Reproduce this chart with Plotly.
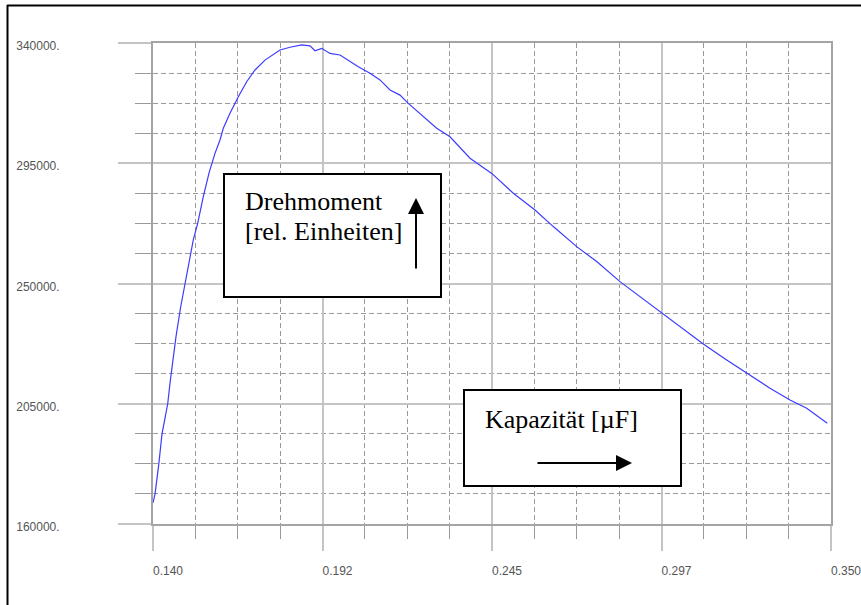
import plotly.graph_objects as go

# Measured torque curve vs. capacitance
kapazitaet_uF = [
    0.14000, 0.14062, 0.14177, 0.14279, 0.14372, 0.14455, 0.14527, 0.14712,
    0.14858, 0.14991, 0.15146, 0.15248, 0.15384, 0.15558, 0.15744, 0.15920,
    0.16075, 0.16177, 0.16385, 0.16642, 0.16902, 0.17159, 0.17469, 0.17933,
    0.18243, 0.18606, 0.18863, 0.19018, 0.19225, 0.19482, 0.19792, 0.20102,
    0.20359, 0.20721, 0.21031, 0.21341, 0.21650, 0.21907, 0.22372, 0.22787,
    0.23199, 0.23818, 0.24491, 0.25160, 0.25832, 0.26399, 0.27123, 0.27743,
    0.28464, 0.29084, 0.29756, 0.30375, 0.31044, 0.31769, 0.32389, 0.33110,
    0.33730, 0.34247, 0.34885,
]
drehmoment = [
    167900, 171200, 182100, 193700, 199600, 204900, 212700, 230100,
    241300, 250100, 260000, 266300, 272500, 282500, 291800, 298700,
    303700, 308100, 313700, 319900, 325500, 329900, 333600, 337400,
    338400, 339300, 338900, 337100, 338000, 336100, 335500, 333000,
    331100, 328700, 326200, 322400, 320500, 317400, 312400, 308100,
    304900, 296900, 291200, 283800, 277500, 271300, 263800, 258200,
    250700, 245100, 239100, 233200, 227400, 221400, 216400, 210800,
    206400, 203300, 197700,
]

# Axis scales and tick labels
x_range = [0.140, 0.350]
x_major = [0.140, 0.1925, 0.245, 0.2975, 0.350]
x_labels = ["0.140", "0.192", "0.245", "0.297", "0.350"]
x_minor_step = 0.013125

y_range = [160000, 340000]
y_major = [160000, 205000, 250000, 295000, 340000]
y_labels = ["160000.", "205000.", "250000.", "295000.", "340000."]
y_minor_step = 11250

x_minor = [x_range[0] + i * x_minor_step for i in range(17) if i % 4]
y_minor = [y_range[0] + i * y_minor_step for i in range(17) if i % 4]

GRID_MAJOR = "#c4c4c4"
GRID_MINOR = "#9a9a9a"
FRAME = "#a4a4a4"
TICK_FONT = dict(family="Liberation Sans, Arial, sans-serif", size=12, color="#555555")
BOX_FONT = dict(family="Liberation Serif, Times New Roman, serif", size=26, color="#000000")

fig = go.Figure()
fig.add_trace(go.Scatter(
    x=kapazitaet_uF, y=drehmoment, mode="lines",
    line=dict(color="#3c3cff", width=1.2),
    hoverinfo="skip", showlegend=False,
))

fig.update_xaxes(
    range=x_range, tickvals=x_major, ticktext=x_labels,
    ticks="outside", ticklen=25, tickwidth=1.5, tickcolor=GRID_MAJOR,
    showgrid=True, gridcolor=GRID_MAJOR, gridwidth=1.5,
    showline=True, linecolor=FRAME, linewidth=2, mirror=True,
    zeroline=False, tickfont=TICK_FONT, automargin=False,
    ticklabelstandoff=10, ticklabelshift=15, ticklabeloverflow="allow",
    minor=dict(tickvals=x_minor, ticks="outside", ticklen=13, tickwidth=1,
               tickcolor=GRID_MINOR, showgrid=True, gridcolor=GRID_MINOR,
               gridwidth=1, griddash="5px,3px"),
)
fig.update_yaxes(
    range=y_range, tickvals=y_major, ticktext=y_labels,
    ticks="outside", ticklen=33, tickwidth=1.5, tickcolor=GRID_MAJOR,
    showgrid=True, gridcolor=GRID_MAJOR, gridwidth=1.5,
    showline=True, linecolor=FRAME, linewidth=2, mirror=True,
    zeroline=False, tickfont=TICK_FONT, automargin=False,
    ticklabelstandoff=56, ticklabelshift=3, ticklabeloverflow="allow",
    minor=dict(tickvals=y_minor, ticks="outside", ticklen=16, tickwidth=1,
               tickcolor=GRID_MINOR, showgrid=True, gridcolor=GRID_MINOR,
               gridwidth=1, griddash="5px,3px"),
)

W, H = 861, 605
ML, MR, MT, MB = 153, 30, 43, 81
PW, PH = W - ML - MR, H - MT - MB


def px(xp):
    return (xp - ML) / PW


def py(yp):
    return (H - MB - yp) / PH


shapes = [
    # outer frame (top and left edges)
    dict(type="line", xref="paper", yref="paper", x0=px(7), x1=px(870), y0=py(5.5), y1=py(5.5),
         line=dict(color="#000000", width=2)),
    dict(type="line", xref="paper", yref="paper", x0=px(7.5), x1=px(7.5), y0=py(5), y1=py(615),
         line=dict(color="#000000", width=2)),
    # label boxes
    dict(type="rect", xref="paper", yref="paper", x0=px(224), x1=px(441), y0=py(297), y1=py(174),
         line=dict(color="#000000", width=2), fillcolor="#ffffff", layer="above"),
    dict(type="rect", xref="paper", yref="paper", x0=px(464), x1=px(681), y0=py(486), y1=py(390),
         line=dict(color="#000000", width=2), fillcolor="#ffffff", layer="above"),
]

annotations = [
    dict(xref="paper", yref="paper", x=px(243), y=py(201), text="Drehmoment",
         xanchor="left", yanchor="middle", showarrow=False, font=BOX_FONT),
    dict(xref="paper", yref="paper", x=px(243), y=py(231), text="[rel. Einheiten]",
         xanchor="left", yanchor="middle", showarrow=False, font=BOX_FONT),
    dict(xref="paper", yref="paper", x=px(483), y=py(419), text="Kapazität [µF]",
         xanchor="left", yanchor="middle", showarrow=False, font=BOX_FONT),
    # arrows
    dict(xref="paper", yref="paper", x=px(416), y=py(198), ax=0, ay=72, text="",
         showarrow=True, arrowhead=2, arrowwidth=2, arrowsize=1.6, arrowcolor="#000000"),
    dict(xref="paper", yref="paper", x=px(632), y=py(463), ax=-96, ay=0, text="",
         showarrow=True, arrowhead=2, arrowwidth=2, arrowsize=1.6, arrowcolor="#000000"),
]

fig.update_layout(
    width=W, height=H, autosize=False,
    margin=dict(l=ML, r=MR, t=MT, b=MB, pad=0),
    paper_bgcolor="#ffffff", plot_bgcolor="#ffffff",
    shapes=shapes, annotations=annotations, showlegend=False,
)

fig.write_html("out.html")
